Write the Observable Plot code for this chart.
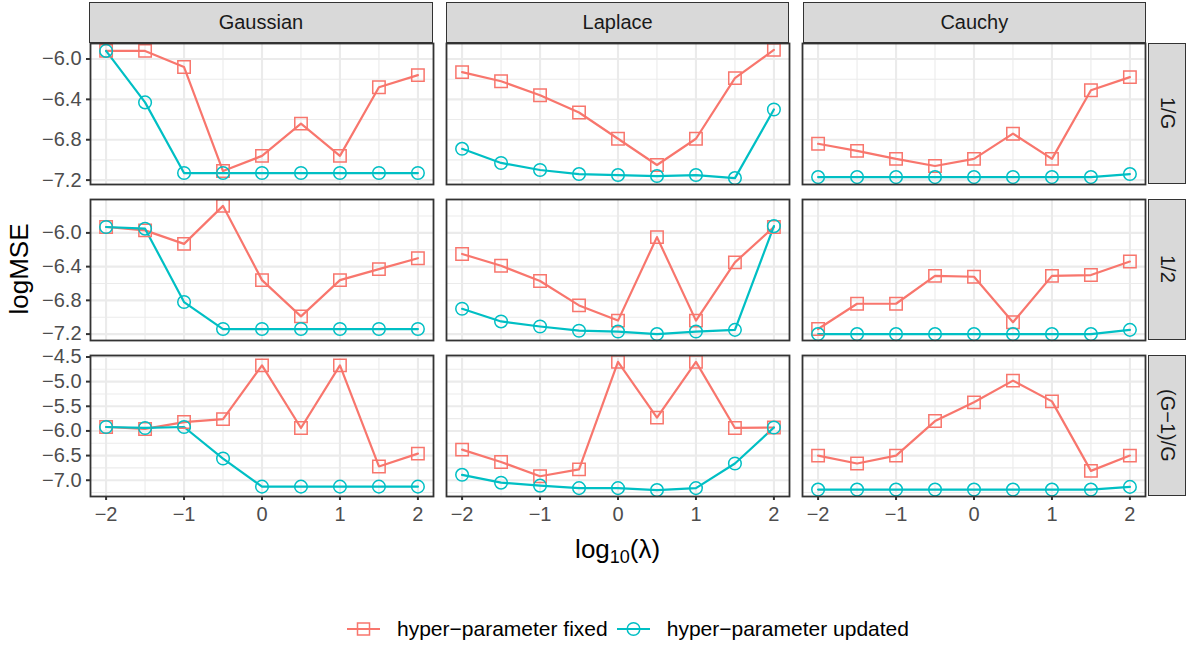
<!DOCTYPE html>
<html><head><meta charset="utf-8">
<script src="https://cdn.jsdelivr.net/npm/d3@7"></script>
<script src="https://cdn.jsdelivr.net/npm/@observablehq/plot@0.6"></script>
<style>
body{margin:0;background:#fff;font-family:"Liberation Sans",Arial,sans-serif;}
#chart{position:relative;width:1188px;height:650px;overflow:hidden;background:#fff;}
#chart svg{position:absolute;left:0;overflow:visible;}
.strip{position:absolute;box-sizing:border-box;background:#D9D9D9;border:1.8px solid #333333;color:#1A1A1A;font-size:20px;display:flex;align-items:center;justify-content:center;}
.strip.right{writing-mode:vertical-rl;}
.title{position:absolute;color:#000;font-size:26px;white-space:nowrap;}
.legend{position:absolute;display:flex;align-items:center;font-size:21px;color:#000;white-space:nowrap;}
.legend svg{position:static !important;}
</style></head><body><div id="chart"></div><script>
// ---- data ----
const lambda = [-2, -1.5, -1, -0.5, 0, 0.5, 1, 1.5, 2];
const distributions = ["Gaussian", "Laplace", "Cauchy"];
const rowLabels = ["1/G", "1/2", "(G\u22121)/G"];
const seriesNames = ["hyper\u2212parameter fixed", "hyper\u2212parameter updated"];
const seriesColors = ["#F8766D", "#00BFC4"];

// row 1/G
const gaussian_1G_fixed   = [-5.92, -5.92, -6.08, -7.11, -6.96, -6.64, -6.96, -6.28, -6.16];
const gaussian_1G_updated = [-5.92, -6.43, -7.13, -7.13, -7.13, -7.13, -7.13, -7.13, -7.13];
const laplace_1G_fixed    = [-6.13, -6.22, -6.36, -6.53, -6.79, -7.05, -6.79, -6.19, -5.91];
const laplace_1G_updated  = [-6.89, -7.03, -7.10, -7.14, -7.15, -7.16, -7.15, -7.18, -6.50];
const cauchy_1G_fixed     = [-6.84, -6.91, -6.99, -7.06, -6.99, -6.74, -6.99, -6.31, -6.18];
const cauchy_1G_updated   = [-7.17, -7.17, -7.17, -7.17, -7.17, -7.17, -7.17, -7.17, -7.14];
// row 1/2
const gaussian_half_fixed   = [-5.93, -5.97, -6.13, -5.68, -6.56, -6.99, -6.56, -6.43, -6.30];
const gaussian_half_updated = [-5.93, -5.95, -6.82, -7.14, -7.14, -7.14, -7.14, -7.14, -7.14];
const laplace_half_fixed    = [-6.25, -6.39, -6.57, -6.86, -7.04, -6.05, -7.04, -6.35, -5.93];
const laplace_half_updated  = [-6.90, -7.05, -7.11, -7.16, -7.17, -7.20, -7.17, -7.15, -5.92];
const cauchy_half_fixed     = [-7.14, -6.84, -6.84, -6.51, -6.52, -7.06, -6.51, -6.50, -6.34];
const cauchy_half_updated   = [-7.20, -7.20, -7.20, -7.20, -7.20, -7.20, -7.20, -7.20, -7.15];
// row (G-1)/G
const gaussian_G1G_fixed   = [-5.92, -5.96, -5.82, -5.76, -4.67, -5.94, -4.67, -6.72, -6.46];
const gaussian_G1G_updated = [-5.92, -5.94, -5.92, -6.56, -7.13, -7.13, -7.13, -7.13, -7.13];
const laplace_G1G_fixed    = [-6.38, -6.63, -6.92, -6.78, -4.60, -5.73, -4.60, -5.94, -5.93];
const laplace_G1G_updated  = [-6.89, -7.05, -7.11, -7.16, -7.16, -7.20, -7.16, -6.66, -5.93];
const cauchy_G1G_fixed     = [-6.50, -6.66, -6.50, -5.80, -5.42, -4.98, -5.40, -6.81, -6.50];
const cauchy_G1G_updated   = [-7.19, -7.19, -7.19, -7.19, -7.19, -7.19, -7.19, -7.19, -7.135];

// tick values
const xMajor = [-2, -1, 0, 1, 2];
const xMinor = [-1.5, -0.5, 0.5, 1.5];
const yMajor_1G = [-7.2, -6.8, -6.4, -6.0];
const yMinor_1G = [-7.4, -7.0, -6.6, -6.2, -5.8];
const yMajor_half = [-7.2, -6.8, -6.4, -6.0];
const yMinor_half = [-7.4, -7.0, -6.6, -6.2, -5.8];
const yMajor_G1G = [-7.0, -6.5, -6.0, -5.5, -5.0, -4.5];
const yMinor_G1G = [-7.25, -6.75, -6.25, -5.75, -5.25, -4.75];

const rows = [
  {values: [[gaussian_1G_fixed, gaussian_1G_updated], [laplace_1G_fixed, laplace_1G_updated], [cauchy_1G_fixed, cauchy_1G_updated]], yMajor: yMajor_1G, yMinor: yMinor_1G},
  {values: [[gaussian_half_fixed, gaussian_half_updated], [laplace_half_fixed, laplace_half_updated], [cauchy_half_fixed, cauchy_half_updated]], yMajor: yMajor_half, yMinor: yMinor_half},
  {values: [[gaussian_G1G_fixed, gaussian_G1G_updated], [laplace_G1G_fixed, laplace_G1G_updated], [cauchy_G1G_fixed, cauchy_G1G_updated]], yMajor: yMajor_G1G, yMinor: yMinor_G1G}
];

// ---- layout ----
const W = 1188, panelL = 89.3, panelR = 1146, gap = 13.4;
const bw = (panelR - panelL - 2 * gap) / 3;
const panelTops = [42.5, 198.5, 354.5], panelH = 141;
const font = "Liberation Sans, Arial, sans-serif";
const chart = document.getElementById("chart");

rows.forEach((row, ri) => {
  const table = [];
  distributions.forEach((d, di) => seriesNames.forEach((s, si) => lambda.forEach((x, i) =>
    table.push({dist: d, series: s, lambda: x, logMSE: row.values[di][si][i]}))));
  const ext = d3.extent(table, d => d.logMSE);
  const r = ext[1] - ext[0];
  const yDomain = [ext[0] - 0.05 * r, ext[1] + 0.05 * r];
  const inside = v => v >= yDomain[0] && v <= yDomain[1];
  const isLast = ri === 2;
  const mt = 3, mb = isLast ? 40 : 3;
  const pt = {fx: "dist", x: "lambda", y: "logMSE", stroke: "series"};
  const plot = Plot.plot({
    width: W, height: mt + panelH + mb,
    marginTop: mt, marginBottom: mb, marginLeft: panelL, marginRight: W - panelR,
    style: {fontFamily: font, background: "transparent", overflow: "visible"},
    fx: {domain: distributions, paddingInner: gap / (bw + gap), paddingOuter: 0, axis: null, label: null},
    x: {domain: [-2.2, 2.2], ...(isLast ? {} : {axis: null})},
    y: {domain: yDomain},
    color: {domain: seriesNames, range: seriesColors},
    marks: [
      Plot.ruleX(xMinor, {stroke: "#EBEBEB", strokeWidth: 1.1}),
      Plot.ruleY(row.yMinor.filter(inside), {stroke: "#EBEBEB", strokeWidth: 1.1}),
      Plot.ruleX(xMajor, {stroke: "#EBEBEB", strokeWidth: 2.1}),
      Plot.ruleY(row.yMajor.filter(inside), {stroke: "#EBEBEB", strokeWidth: 2.1}),
      Plot.line(table, {...pt, z: "series", strokeWidth: 2.2}),
      Plot.dot(table.filter(d => d.series === seriesNames[0]), {...pt, symbol: "square", r: 7, fill: "none", strokeWidth: 1.5}),
      Plot.dot(table.filter(d => d.series === seriesNames[1]), {...pt, symbol: "circle", r: 6.3, fill: "none", strokeWidth: 1.5}),
      Plot.frame({stroke: "#333333", strokeWidth: 1.8}),
      Plot.axisY({ticks: row.yMajor, tickFormat: d3.format(".1f"), tickSize: 4, tickPadding: 5, fontSize: 20,
        fill: "#4D4D4D", stroke: "#333333", strokeWidth: 2, label: null, facetAnchor: "left"}),
      isLast ? Plot.axisX({ticks: xMajor, tickFormat: d3.format("d"), tickSize: 4, tickPadding: 6, fontSize: 20,
        fill: "#4D4D4D", stroke: "#333333", strokeWidth: 2, label: null}) : null
    ]
  });
  plot.style.top = (panelTops[ri] - mt) + "px";
  chart.appendChild(plot);

  // right strip
  const rs = document.createElement("div");
  rs.className = "strip right";
  rs.style.left = (panelR + 2) + "px";
  rs.style.width = "38px";
  rs.style.top = panelTops[ri] + "px";
  rs.style.height = panelH + "px";
  rs.textContent = rowLabels[ri];
  chart.appendChild(rs);
});

// top strips
distributions.forEach((d, i) => {
  const s = document.createElement("div");
  s.className = "strip";
  s.style.left = (panelL + i * (bw + gap)) + "px";
  s.style.width = bw + "px";
  s.style.top = "2px";
  s.style.height = (panelTops[0] - 2 + 0.9) + "px";
  s.textContent = d;
  chart.appendChild(s);
});

// axis titles
const yt = document.createElement("div");
yt.className = "title";
yt.textContent = "logMSE";
yt.style.left = "19px"; yt.style.top = "269px";
yt.style.transform = "translate(-50%,-50%) rotate(-90deg)";
chart.appendChild(yt);

const xt = document.createElement("div");
xt.className = "title";
xt.innerHTML = 'log<sub style="font-size:18px;vertical-align:-5px;line-height:0">10</sub>(\u03BB)';
xt.style.left = ((panelL + panelR) / 2) + "px"; xt.style.top = "549px";
xt.style.transform = "translate(-50%,-50%)";
chart.appendChild(xt);

// legend
const lg = document.createElement("div");
lg.className = "legend";
lg.style.left = "347px"; lg.style.top = "617px";
const key = (color, shape) => {
  const sym = shape === "square"
    ? `<rect x="10.5" y="4" width="12" height="12" fill="none" stroke="${color}" stroke-width="1.5"/>`
    : `<circle cx="16.5" cy="10" r="6.3" fill="none" stroke="${color}" stroke-width="1.5"/>`;
  return `<svg width="33" height="20" viewBox="0 0 33 20"><line x1="0" x2="33" y1="10" y2="10" stroke="${color}" stroke-width="2.2"/>${sym}</svg>`;
};
lg.innerHTML = key(seriesColors[0], "square") + `<span style="margin-left:17px">${seriesNames[0]}</span>` +
  `<span style="margin-left:9px;display:flex">${key(seriesColors[1], "circle")}</span>` + `<span style="margin-left:17px">${seriesNames[1]}</span>`;
chart.appendChild(lg);
</script></body></html>
